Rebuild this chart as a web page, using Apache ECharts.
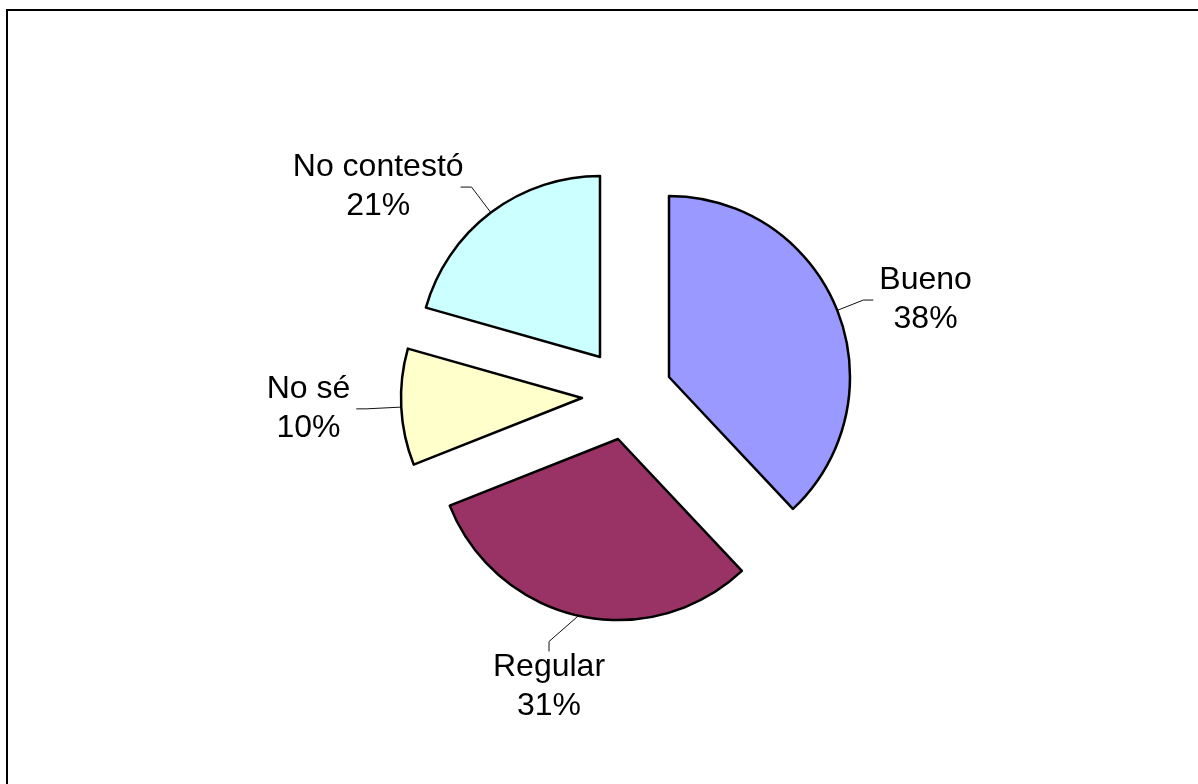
<!DOCTYPE html>
<html>
<head>
<meta charset="utf-8">
<script src="https://cdn.jsdelivr.net/npm/echarts@6/dist/echarts.min.js"></script>
<style>
html,body{margin:0;padding:0;background:#fff;}
#chart{width:1198px;height:784px;}
</style>
</head>
<body>
<div id="chart"></div>
<script>
// ---- data ----
const categories = ['Bueno', 'Regular', 'No sé', 'No contestó'];
const values = [38, 31, 10.4, 20.6];

// ---- styles / layout ----
const colors = ['#9999FF', '#993366', '#FFFFCC', '#CCFFFF'];
const sliceCenters = [[669, 377], [618, 439], [582, 398], [600, 357]]; // exploded slice apex
const pieRadius = 181;
const labelLines = [
  { length: 28, length2: 10, dist: 6 },
  { length: 20, length2: 10, dist: 4 },
  { length: 35, length2: 10, dist: 6 },
  { length: 32, length2: 11, dist: -3 }
];
const FONT = '"Liberation Sans", Arial, sans-serif';

const chart = echarts.init(document.getElementById('chart'), null, { renderer: 'canvas' });

function buildSeries(idx) {
  const data = categories.map((name, j) => {
    const visible = j === idx;
    return {
      name: name,
      value: values[j],
      itemStyle: visible
        ? { color: colors[j], borderColor: '#000', borderWidth: 2.5 }
        : { color: 'rgba(0,0,0,0)', borderWidth: 0 },
      label: { show: visible },
      labelLine: visible
        ? { show: true, length: labelLines[j].length, length2: labelLines[j].length2 }
        : { show: false }
    };
  });
  const s = {
    type: 'pie',
    silent: true,
    animation: false,
    startAngle: 90,
    clockwise: true,
    center: sliceCenters[idx],
    radius: pieRadius,
    avoidLabelOverlap: false,
    percentPrecision: 2,
    label: {
      position: 'outside',
      distanceToLabelLine: labelLines[idx].dist,
      formatter: p => '{t|' + p.name + '}\n{t|' + Math.round(p.percent) + '%}',
      rich: {
        t: { fontFamily: FONT, fontSize: 32, lineHeight: 39, color: '#000', align: 'center' }
      }
    },
    labelLine: { lineStyle: { color: '#111', width: 1 }, smooth: false },
    emphasis: { disabled: true },
    data: data
  };
  if (categories[idx] === 'Regular') {
    s.labelLayout = function () {
      return { x: 549, y: 687, align: 'center', verticalAlign: 'middle' };
    };
  }
  return s;
}

chart.setOption({
  backgroundColor: '#fff',
  graphic: [{
    type: 'rect',
    shape: { x: 7, y: 10, width: 1400, height: 1000 },
    style: { fill: 'none', stroke: '#000', lineWidth: 2 },
    silent: true
  }],
  series: categories.map((c, i) => buildSeries(i))
});
</script>
</body>
</html>
